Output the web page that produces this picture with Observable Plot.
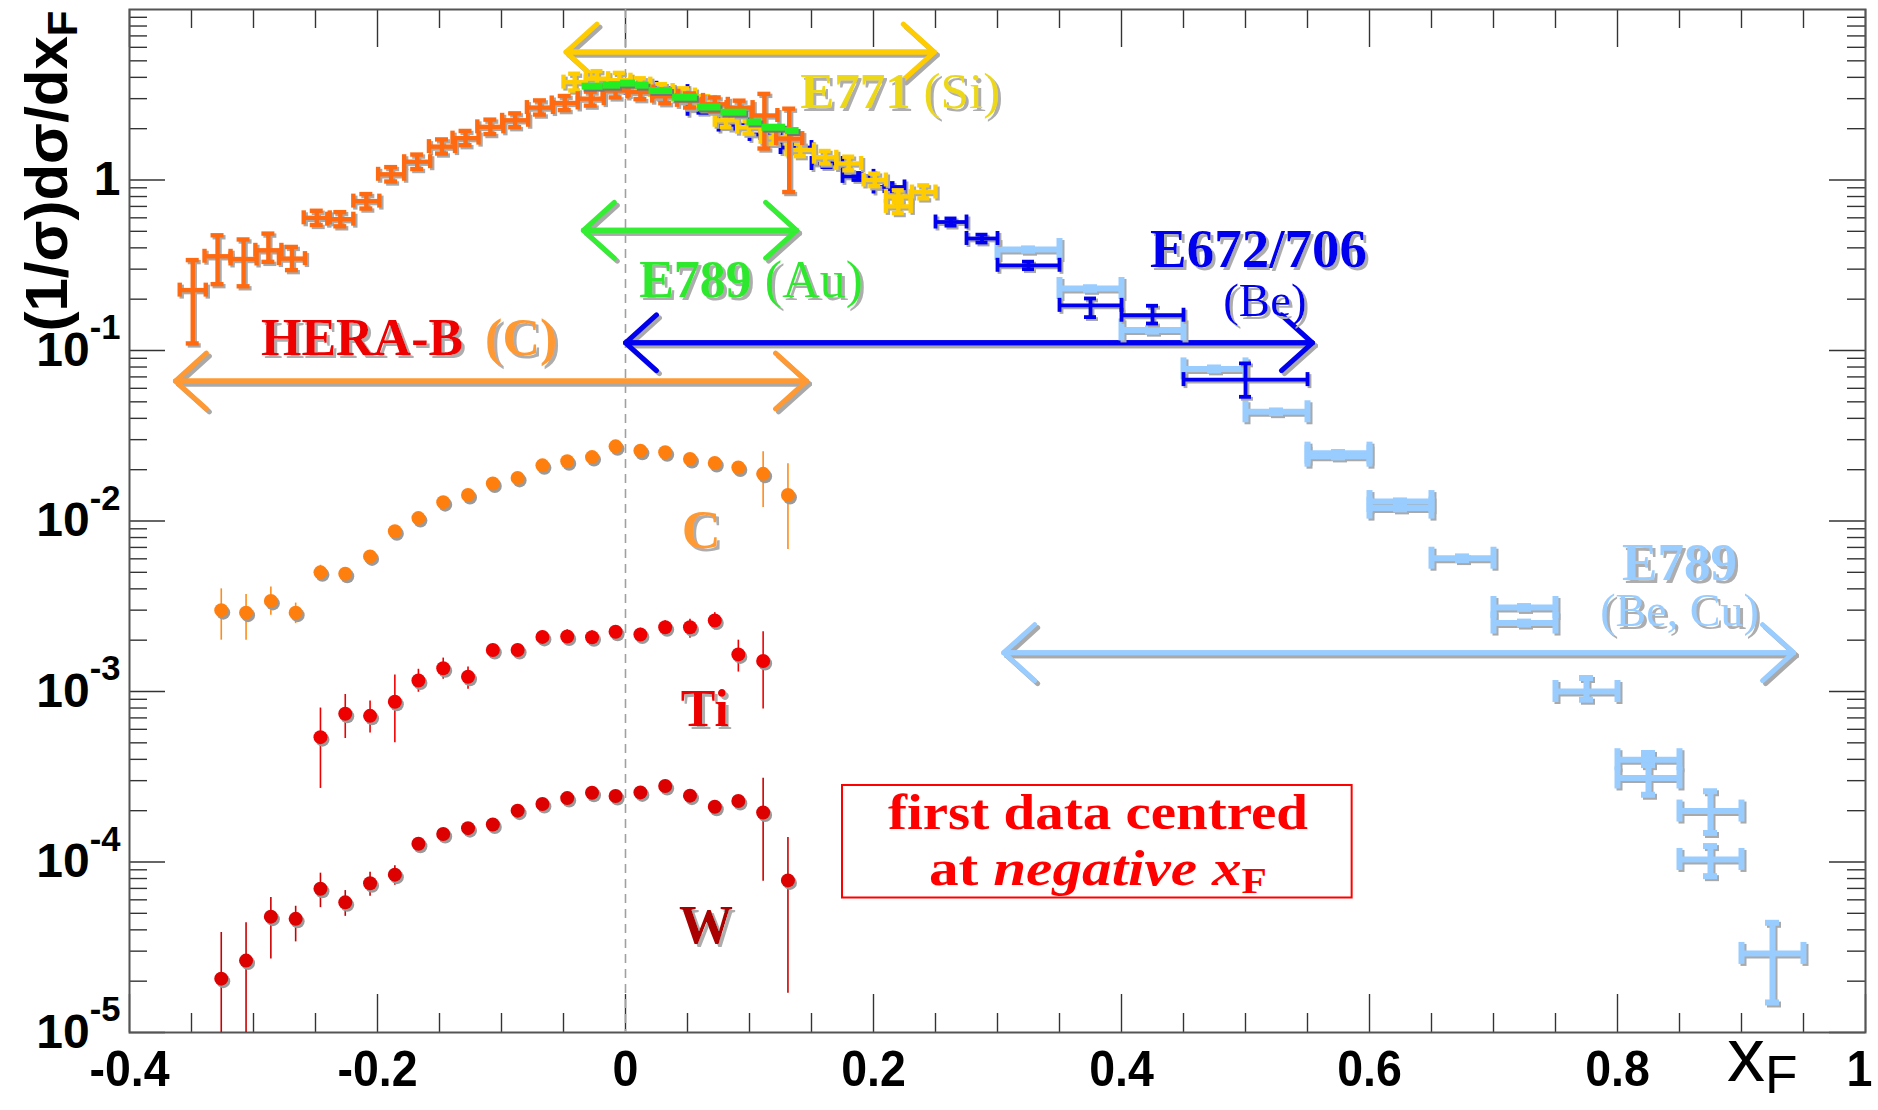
<!DOCTYPE html>
<html>
<head>
<meta charset="utf-8">
<script src="https://cdn.jsdelivr.net/npm/d3@7"></script>
<script src="https://cdn.jsdelivr.net/npm/@observablehq/plot@0.6"></script>
<style>
html, body { margin: 0; padding: 0; background: #fff; }
#chart { width: 1878px; height: 1110px; overflow: hidden; }
</style>
</head>
<body>
<div id="chart"></div>
<script>
// ---------------- axis ticks ----------------
const xTicks = [-0.4, -0.2, 0, 0.2, 0.4, 0.6, 0.8, 1.0];
const xTickLabels = ["-0.4", "-0.2", "0", "0.2", "0.4", "0.6", "0.8", "1"];
const yTicks = [1e-5, 1e-4, 1e-3, 1e-2, 1e-1, 1];
const yTickLabels = ["10^{-5}", "10^{-4}", "10^{-3}", "10^{-2}", "10^{-1}", "1"];

// ---------------- HERA-B (C) top, normalised (bin centres, half width) ----------------
const heraX = [-0.349,-0.329,-0.308,-0.288,-0.269,-0.249,-0.230,-0.209,-0.189,-0.168,-0.148,-0.129,-0.109,-0.089,-0.069,-0.049,-0.028,-0.008,0.012,0.032,0.052,0.072,0.092,0.112,0.132];
const heraY = [0.226,0.357,0.344,0.387,0.346,0.600,0.589,0.752,1.08,1.28,1.57,1.76,2.05,2.24,2.66,2.83,3.00,3.35,3.28,3.10,2.93,2.78,2.66,2.39,1.75];
const heraLo = [0.110,0.245,0.238,0.331,0.296,0.545,0.535,0.680,0.98,1.16,1.43,1.60,1.86,2.04,2.42,2.57,2.73,3.05,2.98,2.82,2.66,2.52,2.40,1.53,0.85];
const heraHi = [0.339,0.474,0.448,0.485,0.405,0.660,0.648,0.827,1.19,1.41,1.73,1.94,2.26,2.46,2.93,3.11,3.30,3.68,3.61,3.41,3.22,3.05,2.92,3.20,2.62];
const heraHalfWidth = 0.0105;

// ---------------- E771 (Si) ----------------
const e771X0 = [-0.050,-0.032,-0.014,0.004,0.020,0.038,0.056,0.072,0.090,0.109,0.130,0.152,0.170,0.192,0.210,0.210,0.231];
const e771X1 = [-0.032,-0.014,0.004,0.020,0.038,0.056,0.072,0.090,0.109,0.130,0.152,0.170,0.190,0.210,0.230,0.230,0.250];
const e771Y  = [3.75,3.93,3.85,3.65,3.35,3.15,2.85,2.24,2.04,1.78,1.50,1.36,1.25,1.00,0.70,0.80,0.85];
const e771Lo = [3.35,3.55,3.50,3.35,3.05,2.90,2.60,2.05,1.87,1.63,1.38,1.25,1.14,0.92,0.64,0.74,0.78];
const e771Hi = [4.20,4.35,4.25,3.95,3.65,3.45,3.10,2.45,2.22,1.95,1.63,1.48,1.37,1.09,0.77,0.87,0.93];

// ---------------- E789 (Au) ----------------
const e789AuX0 = [-0.035,-0.018,-0.004,0.008,0.019,0.038,0.058,0.077,0.098,0.110,0.129];
const e789AuX1 = [-0.018,-0.004,0.008,0.019,0.038,0.058,0.077,0.098,0.110,0.129,0.140];
const e789AuY  = [3.55,3.60,3.70,3.60,3.35,3.06,2.68,2.50,2.19,2.04,1.95];

// ---------------- E672/706 (Be) ----------------
const e672X0 = [0.000,0.025,0.050,0.075,0.100,0.125,0.150,0.175,0.200,0.250,0.275,0.300,0.350,0.400,0.450];
const e672X1 = [0.025,0.050,0.075,0.100,0.125,0.150,0.175,0.200,0.225,0.275,0.300,0.350,0.400,0.450,0.550];
const e672Y  = [3.45,3.30,2.60,2.10,1.85,1.55,1.25,1.05,0.91,0.567,0.454,0.316,0.184,0.161,0.0675];
const e672Lo = [3.30,3.15,2.48,2.00,1.76,1.47,1.19,1.00,0.86,0.540,0.430,0.300,0.157,0.144,0.0535];
const e672Hi = [3.60,3.45,2.72,2.20,1.94,1.63,1.31,1.10,0.96,0.595,0.478,0.332,0.202,0.183,0.0840];

// ---------------- E789 (Be, Cu) ----------------
const e789X0 = [0.30,0.35,0.40,0.45,0.50,0.55,0.55,0.60,0.60,0.65,0.70,0.70,0.75,0.80,0.80,0.85,0.85,0.90];
const e789X1 = [0.35,0.40,0.45,0.50,0.55,0.60,0.60,0.65,0.65,0.70,0.75,0.75,0.80,0.85,0.85,0.90,0.90,0.95];
const e789Y  = [0.391,0.231,0.132,0.078,0.0437,0.0250,0.0240,0.0130,0.0119,0.00605,0.00311,0.00252,0.00100,0.000398,0.000311,0.000199,0.0001035,0.0000291];
const e789Lo = [0.385,0.227,0.129,0.0765,0.0429,0.0246,0.0236,0.0128,0.0117,0.0059,0.00305,0.00247,0.000895,0.00037,0.000248,0.000148,0.0000826,0.000015];
const e789Hi = [0.397,0.235,0.135,0.0795,0.0445,0.0254,0.0244,0.0132,0.0121,0.0062,0.00317,0.00257,0.00120,0.00043,0.000436,0.00026,0.000124,0.000044];

// ---------------- HERA-B per nucleus (C, Ti, W) ----------------
const cX  = [-0.326,-0.306,-0.286,-0.266,-0.246,-0.226,-0.206,-0.186,-0.167,-0.147,-0.127,-0.107,-0.087,-0.067,-0.047,-0.027,-0.008,0.012,0.032,0.052,0.072,0.091,0.111,0.131];
const cY  = [3.0e-3,2.9e-3,3.4e-3,2.9e-3,5.0e-3,4.9e-3,6.2e-3,8.7e-3,1.04e-2,1.29e-2,1.42e-2,1.66e-2,1.79e-2,2.12e-2,2.24e-2,2.37e-2,2.74e-2,2.58e-2,2.53e-2,2.31e-2,2.19e-2,2.06e-2,1.89e-2,1.42e-2];
const cLo = [2.0e-3,2.0e-3,2.8e-3,2.5e-3,4.6e-3,4.6e-3,5.9e-3,8.3e-3,9.9e-3,1.23e-2,1.36e-2,1.59e-2,1.72e-2,2.04e-2,2.16e-2,2.29e-2,2.65e-2,2.49e-2,2.44e-2,2.22e-2,2.09e-2,1.95e-2,1.20e-2,6.8e-3];
const cHi = [4.0e-3,3.7e-3,4.1e-3,3.3e-3,5.5e-3,5.2e-3,6.6e-3,9.1e-3,1.09e-2,1.35e-2,1.48e-2,1.73e-2,1.86e-2,2.20e-2,2.32e-2,2.45e-2,2.83e-2,2.67e-2,2.62e-2,2.41e-2,2.30e-2,2.18e-2,2.55e-2,2.17e-2];

const tiX  = [-0.246,-0.226,-0.206,-0.186,-0.167,-0.147,-0.127,-0.107,-0.087,-0.067,-0.047,-0.027,-0.008,0.012,0.032,0.052,0.072,0.091,0.111];
const tiY  = [5.4e-4,7.4e-4,7.2e-4,8.7e-4,1.16e-3,1.37e-3,1.22e-3,1.75e-3,1.75e-3,2.09e-3,2.10e-3,2.08e-3,2.24e-3,2.16e-3,2.38e-3,2.38e-3,2.61e-3,1.65e-3,1.51e-3];
const tiLo = [2.7e-4,5.3e-4,5.7e-4,5.0e-4,9.9e-4,1.18e-3,1.03e-3,1.60e-3,1.60e-3,1.93e-3,1.93e-3,1.90e-3,2.06e-3,1.98e-3,2.15e-3,2.05e-3,2.30e-3,1.30e-3,7.9e-4];
const tiHi = [8.0e-4,9.6e-4,8.8e-4,1.25e-3,1.35e-3,1.57e-3,1.39e-3,1.90e-3,1.90e-3,2.27e-3,2.30e-3,2.27e-3,2.42e-3,2.35e-3,2.60e-3,2.65e-3,2.90e-3,2.00e-3,2.24e-3];

const wX  = [-0.326,-0.306,-0.286,-0.266,-0.246,-0.226,-0.206,-0.186,-0.167,-0.147,-0.127,-0.107,-0.087,-0.067,-0.047,-0.027,-0.008,0.012,0.032,0.052,0.072,0.091,0.111,0.131];
const wY  = [2.07e-5,2.64e-5,4.78e-5,4.64e-5,6.97e-5,5.8e-5,7.5e-5,8.43e-5,1.28e-4,1.46e-4,1.58e-4,1.66e-4,2.0e-4,2.19e-4,2.37e-4,2.55e-4,2.44e-4,2.56e-4,2.79e-4,2.45e-4,2.11e-4,2.28e-4,1.95e-4,7.8e-5];
const wLo = [4e-6,4e-6,2.7e-5,3.4e-5,5.4e-5,4.8e-5,6.3e-5,7.3e-5,1.20e-4,1.38e-4,1.50e-4,1.57e-4,1.90e-4,2.08e-4,2.26e-4,2.44e-4,2.33e-4,2.44e-4,2.66e-4,2.33e-4,1.99e-4,2.15e-4,7.7e-5,1.7e-5];
const wHi = [3.86e-5,4.4e-5,6.2e-5,5.5e-5,8.6e-5,6.8e-5,8.7e-5,9.5e-5,1.36e-4,1.55e-4,1.67e-4,1.75e-4,2.10e-4,2.30e-4,2.48e-4,2.66e-4,2.55e-4,2.68e-4,2.92e-4,2.57e-4,2.23e-4,2.41e-4,3.10e-4,1.39e-4];

// ---------------- annotations (data coordinates) ----------------
const arrowSpans = [
  {id: "e771",   x1: -0.048, x2: 0.249, y: 5.63},
  {id: "e789Au", x1: -0.034, x2: 0.138, y: 0.507},
  {id: "e672",   x1: 0.000,  x2: 0.554, y: 0.111},
  {id: "hera",   x1: -0.363, x2: 0.146, y: 0.0662},
  {id: "e789",   x1: 0.305,  x2: 0.942, y: 1.69e-3}
];
const annotations = [
  {id: "e771",   text: "E771 ~(Si)~",  x: 0.141,  y: 3.3},
  {id: "e789Au", text: "E789 ~(Au)~",  x: 0.011,  y: 0.257},
  {id: "e672",   text: "E672/706",     x: 0.423,  y: 0.39},
  {id: "e672b",  text: "~(Be)~",       x: 0.482,  y: 0.194},
  {id: "hera",   text: "HERA-B",       x: -0.294, y: 0.1185},
  {id: "heraC",  text: "(C)",          x: -0.055, y: 0.1185},
  {id: "e789",   text: "E789",         x: 0.850,  y: 5.7e-3},
  {id: "e789b",  text: "~(Be, Cu)~",   x: 0.850,  y: 2.95e-3},
  {id: "C",      text: "C",            x: 0.061,  y: 8.8e-3},
  {id: "Ti",     text: "Ti",           x: 0.064,  y: 7.9e-4},
  {id: "W",      text: "W",            x: 0.065,  y: 4.25e-5}
];
const noteBox = {x1: 0.175, x2: 0.586, y1: 6.15e-5, y2: 2.81e-4};
const noteLines = [
  {text: "first data centred", x: 0.381, y: 1.93e-4},
  {text: "at *negative x*_{F}", x: 0.381, y: 9.1e-5}
];
const yTitle = "(1/σ)dσ/dx_{F}";
const xTitle = "x_{F}";

// ---------------- styles ----------------
const SANS = "'Liberation Sans',Arial,sans-serif";
const SERIF = "'Liberation Serif','Times New Roman',serif";
const SHADOW = "#a9a9a9";
const arrowColor = {e771: "#ffcc00", e789Au: "#33ee33", e672: "#0000ee", hera: "#ff9933", e789: "#99ccff"};
const labelStyle = {
  e771:   {fill: "#ecd816", size: 51, anchor: "start"},
  e789Au: {fill: "#2ee82e", size: 52, anchor: "start"},
  e672:   {fill: "#0000ee", size: 55, anchor: "start"},
  e672b:  {fill: "#0000ee", size: 47, anchor: "start"},
  hera:   {fill: "#ee0000", size: 52, anchor: "start"},
  heraC:  {fill: "#ff9933", size: 52, anchor: "end"},
  e789:   {fill: "#99ccff", size: 53, anchor: "middle"},
  e789b:  {fill: "#99ccff", size: 46, anchor: "middle"},
  C:      {fill: "#ff9933", size: 54, anchor: "middle"},
  Ti:     {fill: "#ee0000", size: 52, anchor: "middle"},
  W:      {fill: "#aa0000", size: 54, anchor: "middle"}
};
const noteWidths = [420, 338];   // rendered widths of the two boxed lines, px

const W = 1878, H = 1110, mt = 9, mb = 78, ml = 129, mr = 13;
const innerW = W - ml - mr, innerH = H - mt - mb;

// ---------------- tables ----------------
const binRows = (x0, x1, y, lo, hi) => y.map((v, i) => ({x0: x0[i], x1: x1[i], xc: (x0[i] + x1[i]) / 2, y: v, lo: lo ? lo[i] : v, hi: hi ? hi[i] : v}));
const centreRows = (xc, hw, y, lo, hi) => y.map((v, i) => ({x0: xc[i] - hw, x1: xc[i] + hw, xc: xc[i], y: v, lo: lo[i], hi: hi[i]}));
const pointRows = (x, y, lo, hi) => y.map((v, i) => ({x: x[i], y: v, lo: lo[i], hi: hi[i]}));

const heraRows = centreRows(heraX, heraHalfWidth, heraY, heraLo, heraHi);
const e771Rows = binRows(e771X0, e771X1, e771Y, e771Lo, e771Hi);
const e789AuRows = binRows(e789AuX0, e789AuX1, e789AuY);
const e672Rows = binRows(e672X0, e672X1, e672Y, e672Lo, e672Hi);
const e789Rows = binRows(e789X0, e789X1, e789Y, e789Lo, e789Hi);
const cRows = pointRows(cX, cY, cLo, cHi);
const tiRows = pointRows(tiX, tiY, tiLo, tiHi);
const wRows = pointRows(wX, wY, wLo, wHi);

// ---------------- mark helpers ----------------
function crossMarks(rows, {color, width, capH, capV, off = 2}) {
  const parts = (stroke, dx, dy) => [
    Plot.ruleY(rows, {y: "y", x1: "x0", x2: "x1", stroke, strokeWidth: width, dx, dy}),
    Plot.ruleX(rows, {x: "x0", y1: "y", y2: "y", insetTop: -capH, insetBottom: -capH, stroke, strokeWidth: width, dx, dy}),
    Plot.ruleX(rows, {x: "x1", y1: "y", y2: "y", insetTop: -capH, insetBottom: -capH, stroke, strokeWidth: width, dx, dy}),
    Plot.ruleX(rows, {x: "xc", y1: "lo", y2: "hi", stroke, strokeWidth: width, dx, dy}),
    Plot.ruleY(rows, {y: "lo", x1: "xc", x2: "xc", insetLeft: -capV, insetRight: -capV, stroke, strokeWidth: width, dx, dy}),
    Plot.ruleY(rows, {y: "hi", x1: "xc", x2: "xc", insetLeft: -capV, insetRight: -capV, stroke, strokeWidth: width, dx, dy})
  ];
  return [...parts(SHADOW, off, off), ...parts(color, 0, 0)];
}
function dotMarks(rows, color, errColor) {
  return [
    Plot.ruleX(rows, {x: "x", y1: "lo", y2: "hi", stroke: errColor, strokeWidth: 1.6, clip: true}),
    Plot.dot(rows, {x: "x", y: "y", r: 7, fill: "#9a9a9a", dx: 2, dy: 2.5}),
    Plot.dot(rows, {x: "x", y: "y", r: 7, fill: color})
  ];
}
function arrowMarks(a) {
  const color = arrowColor[a.id];
  const opts = (stroke, d) => ({x1: "x1", x2: "x2", y1: "y", y2: "y", stroke, strokeWidth: 5, headAngle: 84, headLength: 12.5, dx: d, dy: d});
  const rev = [{x1: a.x2, x2: a.x1, y: a.y}];
  return [
    Plot.arrow([a], opts(SHADOW, 3)), Plot.arrow(rev, opts(SHADOW, 3)),
    Plot.arrow([a], opts(color, 0)), Plot.arrow(rev, opts(color, 0))
  ];
}
function labelMarks(a) {
  const s = labelStyle[a.id];
  return Plot.text([a], {x: "x", y: "y", text: "text", fill: s.fill, fontSize: s.size, fontFamily: SERIF, fontWeight: "bold",
    textAnchor: s.anchor, lineAnchor: "middle"});
}

// ---------------- ticks ----------------
const xMinor = d3.range(-0.35, 0.999, 0.05).filter(v => Math.abs(v / 0.2 - Math.round(v / 0.2)) > 1e-6);
const yMinor = d3.range(-5, 1).flatMap(k => d3.range(2, 10).map(m => m * Math.pow(10, k)));
const tickStyle = {stroke: "#333", strokeWidth: 1.4};
const xLabelMap = new Map(xTicks.map((t, i) => [t, xTickLabels[i]]));
const yLabelMap = new Map(yTicks.map((t, i) => [t, yTickLabels[i]]));

const chart = Plot.plot({
  width: W, height: H,
  marginTop: mt, marginBottom: mb, marginLeft: ml, marginRight: mr,
  style: {background: "#fff", fontFamily: SANS},
  x: {domain: [-0.4, 1.0]},
  y: {type: "log", domain: [1e-5, 10]},
  marks: [
    // inward ticks on all four sides
    Plot.ruleX(xTicks, {x: d => d, insetTop: innerH - 38, ...tickStyle}),
    Plot.ruleX(xTicks, {x: d => d, insetBottom: innerH - 38, ...tickStyle}),
    Plot.ruleX(xMinor, {x: d => d, insetTop: innerH - 19, ...tickStyle}),
    Plot.ruleX(xMinor, {x: d => d, insetBottom: innerH - 19, ...tickStyle}),
    Plot.ruleY(yTicks, {y: d => d, insetRight: innerW - 36, ...tickStyle}),
    Plot.ruleY(yTicks, {y: d => d, insetLeft: innerW - 36, ...tickStyle}),
    Plot.ruleY(yMinor, {y: d => d, insetRight: innerW - 18, ...tickStyle}),
    Plot.ruleY(yMinor, {y: d => d, insetLeft: innerW - 18, ...tickStyle}),
    Plot.frame({stroke: "#555", strokeWidth: 2}),
    Plot.ruleX([0], {stroke: "#a0a0a0", strokeWidth: 1.6, strokeDasharray: "9,6"}),

    // arrows
    ...arrowSpans.flatMap(arrowMarks),

    // normalised distributions
    ...crossMarks(e789Rows, {color: "#99ccff", width: 6, capH: 11, capV: 7, off: 2}),
    ...crossMarks(e672Rows, {color: "#0000ee", width: 3.8, capH: 7, capV: 6, off: 2}),
    ...crossMarks(e771Rows, {color: "#ffcc00", width: 4.4, capH: 7, capV: 6, off: 2}),
    ...crossMarks(heraRows, {color: "#ff6a10", width: 4.4, capH: 7, capV: 6.5, off: 2}),
    Plot.ruleY(e789AuRows, {y: "y", x1: "x0", x2: "x1", stroke: "#777", strokeWidth: 7, dx: 2, dy: 2}),
    Plot.ruleY(e789AuRows, {y: "y", x1: "x0", x2: "x1", stroke: "#22ee22", strokeWidth: 7}),

    // C, Ti, W
    ...dotMarks(cRows, "#ff7f0e", "#ff8c1a"),
    ...dotMarks(tiRows, "#ee0000", "#ee0000"),
    ...dotMarks(wRows, "#dd0000", "#cc0000"),

    // labels
    ...annotations.map(labelMarks),
    Plot.rect([noteBox], {x1: "x1", x2: "x2", y1: "y1", y2: "y2", stroke: "#ff0000", strokeWidth: 2, fill: "none"}),
    Plot.text(noteLines, {x: "x", y: "y", text: "text", fill: "#ff0000", fontSize: 50, fontFamily: SERIF, fontWeight: "bold", textAnchor: "middle", lineAnchor: "middle"}),

    // axes
    Plot.axisX(xTicks, {anchor: "bottom", tickSize: 0, tickPadding: 18, tickFormat: d => xLabelMap.get(d), fontSize: 50, fontFamily: SANS, fontWeight: "bold", label: null}),
    Plot.axisY(yTicks, {anchor: "left", tickSize: 0, tickPadding: 9, tickFormat: d => yLabelMap.get(d), fontSize: 48, fontFamily: SANS, fontWeight: "bold", label: null}),
    Plot.text([yTitle], {frameAnchor: "top-left", text: d => d, rotate: -90, textAnchor: "end", lineAnchor: "middle", dx: -82, dy: 1, fontSize: 60, fontWeight: "bold", fontFamily: SANS}),
    Plot.text([xTitle], {frameAnchor: "bottom-right", text: d => d, textAnchor: "end", lineAnchor: "bottom", dx: -68, dy: 48, fontSize: 76, fontFamily: SANS})
  ]
});

document.getElementById("chart").appendChild(chart);
const NS = "http://www.w3.org/2000/svg";

// ---------------- drop shadow filter for annotation labels ----------------
const defs = document.createElementNS(NS, "defs");
const filt = document.createElementNS(NS, "filter");
filt.setAttribute("id", "labelShadow");
filt.setAttribute("x", "-5%"); filt.setAttribute("y", "-10%");
filt.setAttribute("width", "115%"); filt.setAttribute("height", "130%");
const fOff = document.createElementNS(NS, "feOffset");
fOff.setAttribute("in", "SourceAlpha"); fOff.setAttribute("dx", "3"); fOff.setAttribute("dy", "3"); fOff.setAttribute("result", "o");
const fFlood = document.createElementNS(NS, "feFlood");
fFlood.setAttribute("flood-color", "#adadad"); fFlood.setAttribute("result", "f");
const fComp = document.createElementNS(NS, "feComposite");
fComp.setAttribute("in", "f"); fComp.setAttribute("in2", "o"); fComp.setAttribute("operator", "in"); fComp.setAttribute("result", "s");
const fMerge = document.createElementNS(NS, "feMerge");
const fm1 = document.createElementNS(NS, "feMergeNode"); fm1.setAttribute("in", "s");
const fm2 = document.createElementNS(NS, "feMergeNode"); fm2.setAttribute("in", "SourceGraphic");
fMerge.appendChild(fm1); fMerge.appendChild(fm2);
filt.appendChild(fOff); filt.appendChild(fFlood); filt.appendChild(fComp); filt.appendChild(fMerge);
defs.appendChild(filt);
chart.insertBefore(defs, chart.firstChild);

const shadowTexts = new Set(annotations.map(a => a.text));
const noteIndex = new Map(noteLines.map((n, i) => [n.text, i]));
const noteEls = [];
chart.querySelectorAll("text").forEach(t => {
  if (shadowTexts.has(t.textContent)) t.setAttribute("filter", "url(#labelShadow)");
  if (noteIndex.has(t.textContent)) noteEls.push([t, noteIndex.get(t.textContent)]);
});

// ---------------- rich text: *italic*, ~regular~, _{sub}, ^{sup} ----------------
function parseRich(s) {
  const out = []; let italic = false, light = false, buf = "", i = 0;
  const push = () => { if (buf) out.push({text: buf, italic, light, shift: null}); buf = ""; };
  while (i < s.length) {
    const c = s[i];
    if (c === "*") { push(); italic = !italic; i++; }
    else if (c === "~") { push(); light = !light; i++; }
    else if ((c === "_" || c === "^") && s[i + 1] === "{") {
      push();
      const j = s.indexOf("}", i);
      out.push({text: s.slice(i + 2, j), italic: false, light, shift: c === "_" ? "sub" : "sup"});
      i = j + 1;
    } else { buf += c; i++; }
  }
  push();
  return out;
}
function richify(root) {
  root.querySelectorAll("text, tspan").forEach(el => {
    if (el.children.length) return;
    const s = el.textContent;
    if (!/[*~]|[_^]\{/.test(s)) return;
    const fs = parseFloat(getComputedStyle(el).fontSize) || 16;
    const segs = parseRich(s);
    el.textContent = "";
    let shift = 0;
    for (const g of segs) {
      const t = document.createElementNS(NS, "tspan");
      t.textContent = g.text;
      if (g.italic) t.setAttribute("font-style", "italic");
      if (g.light) t.setAttribute("font-weight", "normal");
      let target = 0;
      if (g.shift === "sub") { target = 0.17 * fs; t.setAttribute("font-size", (0.7 * fs).toFixed(1)); }
      if (g.shift === "sup") { target = -0.55 * fs; t.setAttribute("font-size", (0.72 * fs).toFixed(1)); }
      if (target !== shift) { t.setAttribute("dy", (target - shift).toFixed(1)); shift = target; }
      el.appendChild(t);
    }
  });
}
richify(chart);

// boxed note: widen to the reference's line widths (its face is tall and condensed)
noteEls.forEach(([t, i]) => {
  t.setAttribute("textLength", String(noteWidths[i]));
  t.setAttribute("lengthAdjust", "spacingAndGlyphs");
});

// x tick labels: slightly condensed; keep the last one inside the picture
chart.querySelectorAll("g").forEach(g => {
  if (g.getAttribute("aria-label") !== "x-axis tick label") return;
  g.querySelectorAll("text").forEach(t => {
    const len = t.getComputedTextLength();
    if (len > 0) { t.setAttribute("textLength", (len * 0.93).toFixed(1)); t.setAttribute("lengthAdjust", "spacingAndGlyphs"); }
    if (t.textContent === "1") t.setAttribute("dx", "-6");
  });
});
</script>
</body>
</html>
